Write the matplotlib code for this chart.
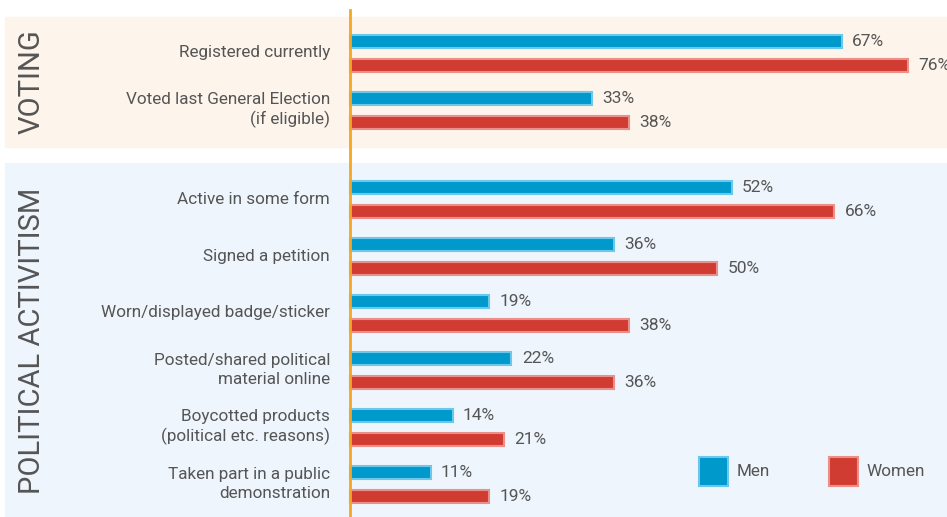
import matplotlib.pyplot as plt
from matplotlib.patches import Rectangle

plt.rcParams['font.family'] = ['Roboto', 'DejaVu Sans']

# Data
voting_labels = ["Registered currently", "Voted last General Election\n(if eligible)"]
voting_men = [67, 33]
voting_women = [76, 38]

activism_labels = ["Active in some form", "Signed a petition", "Worn/displayed badge/sticker",
                   "Posted/shared political\nmaterial online", "Boycotted products\n(political etc. reasons)",
                   "Taken part in a public\ndemonstration"]
activism_men = [52, 36, 19, 22, 14, 11]
activism_women = [66, 50, 38, 36, 21, 19]

men_color = "#0099cc"
men_edge = "#6cc7ea"
women_color = "#d13c32"
women_edge = "#ea8f89"
text_color = "#555555"

px_per_pct = 7.34
zero_px = 350

fig = plt.figure(figsize=(9.47, 5.17), dpi=100)
ax = fig.add_axes([0, 0, 1, 1])
ax.set_xlim(-zero_px / px_per_pct, (947 - zero_px) / px_per_pct)
ax.set_ylim(517, 0)
ax.axis("off")

def px(x):
    return (x - zero_px) / px_per_pct

# section backgrounds
ax.add_patch(Rectangle((px(5), 17), px(947) - px(5), 130, color="#fdf4eb", zorder=0))
ax.add_patch(Rectangle((px(5), 163), px(947) - px(5), 354, color="#eef5fc", zorder=0))

def draw_group(labels, men, women, top):
    for i, (lab, m, w) in enumerate(zip(labels, men, women)):
        yc = top + i * 57
        ax.barh(yc - 11.5, m, height=13, left=0, color=men_color, edgecolor=men_edge, linewidth=1.5, zorder=2)
        ax.barh(yc + 12.5, w, height=13, left=0, color=women_color, edgecolor=women_edge, linewidth=1.5, zorder=2)
        ax.text(m + 1.4, yc - 11.5, f"{m}%", va="center", ha="left", fontsize=12.5, color=text_color)
        ax.text(w + 1.4, yc + 12.5, f"{w}%", va="center", ha="left", fontsize=12.5, color=text_color)
        ax.text(px(330), yc, lab, va="center", ha="right", fontsize=12.3, color=text_color, linespacing=1.3)

draw_group(voting_labels, voting_men, voting_women, 53)
draw_group(activism_labels, activism_men, activism_women, 199)

ax.text(px(32), 82, "VOTING", rotation=90, va="center", ha="center", fontsize=21, color=text_color)
ax.text(px(32), 341, "POLITICAL ACTIVITISM", rotation=90, va="center", ha="center", fontsize=21, color=text_color)

# zero line
ax.plot([0, 0], [10, 517], color="#f5a623", linewidth=2, zorder=3)

# legend
ax.add_patch(Rectangle((px(699), 457), 29 / px_per_pct, 29, facecolor=men_color, edgecolor=men_edge, linewidth=1.5, zorder=2))
ax.text(px(737), 471.5, "Men", va="center", ha="left", fontsize=12.3, color=text_color)
ax.add_patch(Rectangle((px(829), 457), 29 / px_per_pct, 29, facecolor=women_color, edgecolor=women_edge, linewidth=1.5, zorder=2))
ax.text(px(866), 471.5, "Women", va="center", ha="left", fontsize=12.3, color=text_color)

fig.savefig("out.png", dpi=100)
